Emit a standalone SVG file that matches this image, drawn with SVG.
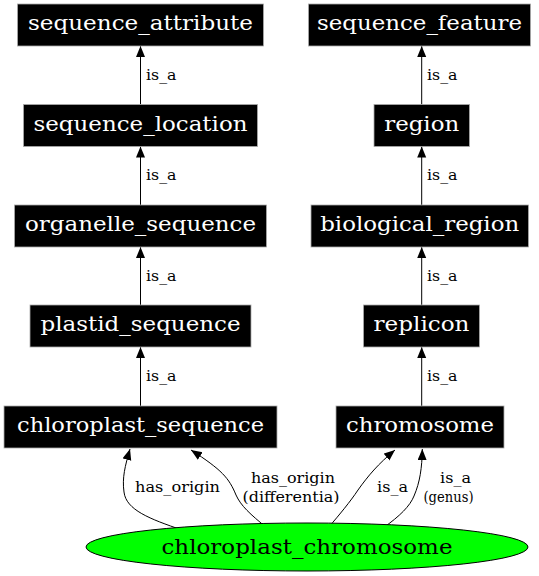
<svg xmlns="http://www.w3.org/2000/svg" width="539" height="576" viewBox="0 0 539 576">
<defs>
<style>
.box{fill:#000;stroke:#aaa;stroke-width:0.8}
.nt{font-family:"DejaVu Serif","Liberation Serif",serif;font-size:19.5px;fill:#fff;text-anchor:middle}
.et{font-family:"DejaVu Serif","Liberation Serif",serif;font-size:14px;fill:#000}
.edge{fill:none;stroke:#000;stroke-width:1}
</style>
<marker id="ah" markerUnits="userSpaceOnUse" markerWidth="12" markerHeight="10" refX="11" refY="4.5" orient="auto">
<path d="M0,0 L11,4.5 L0,9 z" fill="#000"/>
</marker>
</defs>
<rect width="539" height="576" fill="#fff"/>
<g id="connectors">
<path class="edge" d="M140.5,104.5 L140.5,46" marker-end="url(#ah)"/>
<path class="edge" d="M140.5,205 L140.5,146.5" marker-end="url(#ah)"/>
<path class="edge" d="M140.5,305 L140.5,247" marker-end="url(#ah)"/>
<path class="edge" d="M140.5,406 L140.5,347" marker-end="url(#ah)"/>
<path class="edge" d="M421.7,104.5 L421.7,46" marker-end="url(#ah)"/>
<path class="edge" d="M421.7,205 L421.7,146.5" marker-end="url(#ah)"/>
<path class="edge" d="M421.7,305 L421.7,247" marker-end="url(#ah)"/>
<path class="edge" d="M421.7,406 L421.7,347" marker-end="url(#ah)"/>
<path class="edge" d="M182,530 C150,519 126,510 124,492 C122,478 125,466 130,449" marker-end="url(#ah)"/>
<path class="edge" d="M267,528 C250,514 241,506 236,495 C229,478 222,470 191,450" marker-end="url(#ah)"/>
<path class="edge" d="M328,528 C340,514 350,502 358,490 C368,476 378,464 395,450" marker-end="url(#ah)"/>
<path class="edge" d="M383,528 C400,516 410,506 414,496 C420,482 422,468 422.3,449" marker-end="url(#ah)"/>
<text class="et" x="146" y="79.5" textLength="30.5" lengthAdjust="spacingAndGlyphs">is_a</text>
<text class="et" x="146" y="180" textLength="30.5" lengthAdjust="spacingAndGlyphs">is_a</text>
<text class="et" x="146" y="280.5" textLength="30.5" lengthAdjust="spacingAndGlyphs">is_a</text>
<text class="et" x="146" y="381" textLength="30.5" lengthAdjust="spacingAndGlyphs">is_a</text>
<text class="et" x="427" y="79.5" textLength="30.5" lengthAdjust="spacingAndGlyphs">is_a</text>
<text class="et" x="427" y="180" textLength="30.5" lengthAdjust="spacingAndGlyphs">is_a</text>
<text class="et" x="427" y="280.5" textLength="30.5" lengthAdjust="spacingAndGlyphs">is_a</text>
<text class="et" x="427" y="381" textLength="30.5" lengthAdjust="spacingAndGlyphs">is_a</text>
<text class="et" x="135" y="492" textLength="85" lengthAdjust="spacingAndGlyphs">has_origin</text>
<text class="et" x="251" y="483" textLength="84" lengthAdjust="spacingAndGlyphs">has_origin</text>
<text class="et" x="242.5" y="501.5" textLength="97" lengthAdjust="spacingAndGlyphs">(differentia)</text>
<text class="et" x="377" y="492" textLength="31" lengthAdjust="spacingAndGlyphs">is_a</text>
<text class="et" x="440" y="483" textLength="31" lengthAdjust="spacingAndGlyphs">is_a</text>
<text class="et" x="423.5" y="501.5" textLength="50" lengthAdjust="spacingAndGlyphs">(genus)</text>
</g>
<g id="sequence_attribute"><rect class="box" x="17.5" y="4" width="246" height="42"/><text class="nt" x="140.5" y="30" textLength="225" lengthAdjust="spacingAndGlyphs">sequence_attribute</text></g>
<g id="sequence_location"><rect class="box" x="23.5" y="104.5" width="234" height="42"/><text class="nt" x="140.5" y="130.5" textLength="214" lengthAdjust="spacingAndGlyphs">sequence_location</text></g>
<g id="organelle_sequence"><rect class="box" x="14.5" y="205" width="252" height="42"/><text class="nt" x="140.5" y="231" textLength="231" lengthAdjust="spacingAndGlyphs">organelle_sequence</text></g>
<g id="plastid_sequence"><rect class="box" x="30" y="305" width="221" height="42"/><text class="nt" x="140.5" y="331" textLength="200" lengthAdjust="spacingAndGlyphs">plastid_sequence</text></g>
<g id="chloroplast_sequence"><rect class="box" x="4" y="406" width="273" height="42"/><text class="nt" x="140.5" y="432" textLength="247" lengthAdjust="spacingAndGlyphs">chloroplast_sequence</text></g>
<g id="sequence_feature"><rect class="box" x="308.5" y="4" width="222" height="42"/><text class="nt" x="419.5" y="30" textLength="205" lengthAdjust="spacingAndGlyphs">sequence_feature</text></g>
<g id="region"><rect class="box" x="374" y="104.5" width="95.5" height="42"/><text class="nt" x="421.7" y="130.5" textLength="75" lengthAdjust="spacingAndGlyphs">region</text></g>
<g id="biological_region"><rect class="box" x="311" y="205" width="217.5" height="42"/><text class="nt" x="419.7" y="231" textLength="199" lengthAdjust="spacingAndGlyphs">biological_region</text></g>
<g id="replicon"><rect class="box" x="363.5" y="305" width="116" height="42"/><text class="nt" x="421.5" y="331" textLength="96" lengthAdjust="spacingAndGlyphs">replicon</text></g>
<g id="chromosome"><rect class="box" x="336" y="406" width="168" height="42"/><text class="nt" x="420" y="432" textLength="148" lengthAdjust="spacingAndGlyphs">chromosome</text></g>
<g id="chloroplast_chromosome"><ellipse cx="307" cy="547" rx="221" ry="24" fill="#00ff00" stroke="#000" stroke-width="1"/><text class="nt" x="307" y="554" textLength="291" lengthAdjust="spacingAndGlyphs" style="fill:#000">chloroplast_chromosome</text></g>
</svg>
